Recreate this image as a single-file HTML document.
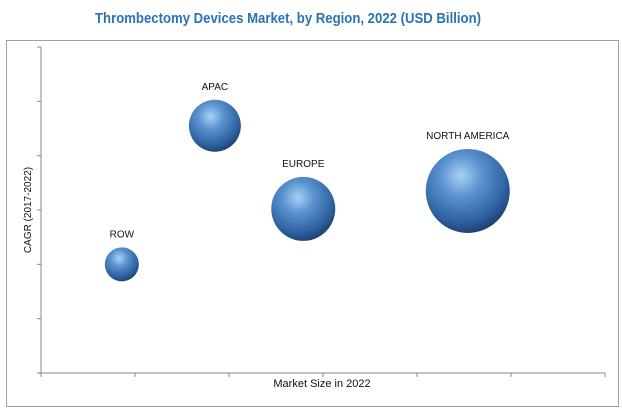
<!DOCTYPE html>
<html><head><meta charset="utf-8"><style>
body{margin:0;background:#fff;width:622px;height:416px;overflow:hidden}
svg{display:block}
</style></head><body>
<svg width="622" height="416">
<defs>
<radialGradient id="bg" cx="0.42" cy="0.32" r="0.7">
<stop offset="0" stop-color="#a9d2f4"/>
<stop offset="0.35" stop-color="#5b93d0"/>
<stop offset="0.8" stop-color="#2c5f9e"/>
<stop offset="1" stop-color="#1d3f6e"/>
</radialGradient>
</defs>
<text x="288" y="23" text-anchor="middle" font-family="Liberation Sans, sans-serif" font-size="15" font-weight="bold" fill="#2a72b5" textLength="386" lengthAdjust="spacingAndGlyphs">Thrombectomy Devices Market, by Region, 2022 (USD Billion)</text>
<rect x="6.5" y="40.5" width="612" height="366" fill="#fff" stroke="#a0a0a0"/>
<g id="axes"></g>
<g id="bubbles"></g>
<text x="322" y="387" text-anchor="middle" font-family="Liberation Sans, sans-serif" font-size="11" fill="#111">Market Size in 2022</text>
<text transform="translate(31,210) rotate(-90)" text-anchor="middle" font-family="Liberation Sans, sans-serif" font-size="10" fill="#111">CAGR (2017-2022)</text>
</svg>
<script>
const regions=["ROW","APAC","EUROPE","NORTH AMERICA"];
const marketSize=[0.86,1.85,2.79,4.54];
const cagr=[2.0,4.55,3.02,3.35];
const bubbleSize=[17,26,32,42];
const xTicks=[0,1,2,3,4,5,6];
const yTicks=[0,1,2,3,4,5,6];
const NS="http://www.w3.org/2000/svg";
const X0=41,X1=605,Y0=373,Y1=47;
const xs=v=>X0+(X1-X0)*v/6, ys=v=>Y0-(Y0-Y1)*v/6;
const ax=document.getElementById('axes');
function el(t,a,p){const e=document.createElementNS(NS,t);for(const k in a)e.setAttribute(k,a[k]);p.appendChild(e);return e;}
let l=el('line',{x1:X0,y1:Y0,x2:X1,y2:Y0,stroke:'#888'},ax);


l=el('line',{x1:X0,y1:Y0,x2:X0,y2:Y1,stroke:'#888'},ax);


xTicks.forEach(t=>{const e=el('line',{x1:xs(t),y1:Y0,x2:xs(t),y2:Y0+4,stroke:'#888'},ax);

});
yTicks.forEach(t=>{const e=el('line',{x1:X0-4,y1:ys(t),x2:X0,y2:ys(t),stroke:'#888'},ax);

});
const bg=document.getElementById('bubbles');
regions.forEach((r,i)=>{
const cx=xs(marketSize[i]),cy=ys(cagr[i]),rr=bubbleSize[i];
const c=el('circle',{cx:cx,cy:cy,r:rr,fill:'url(#bg)'},bg);


const t=el('text',{x:cx,y:cy-rr-10,'text-anchor':'middle','font-family':'Liberation Sans, sans-serif','font-size':'10',fill:'#111'},bg);
t.textContent=r;


});
</script>
</body></html>
